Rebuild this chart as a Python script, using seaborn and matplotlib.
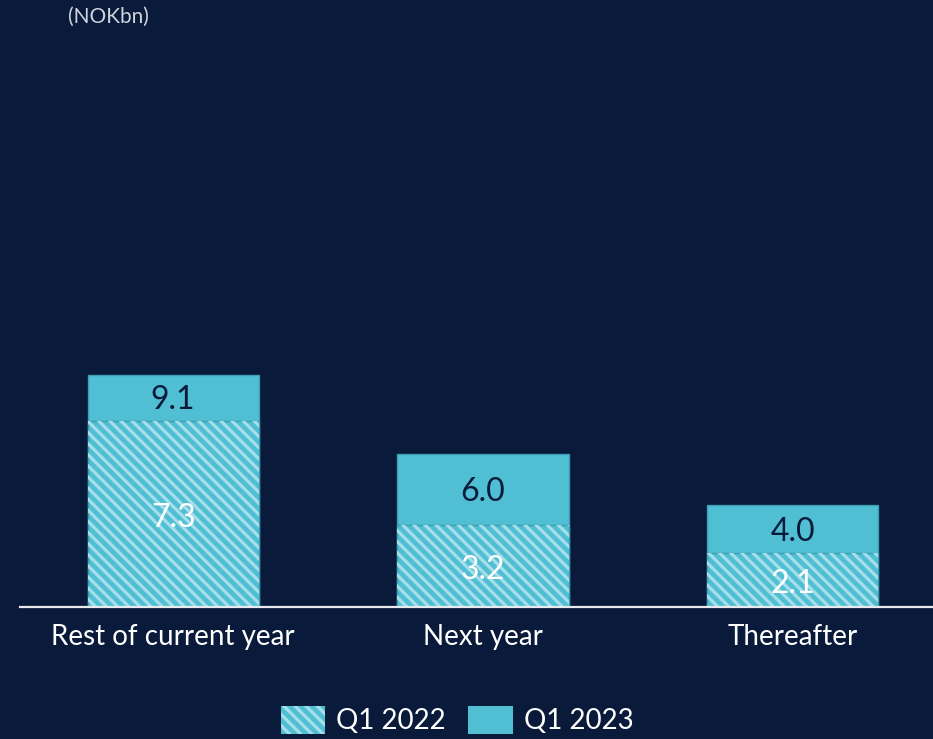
import pandas as pd
import matplotlib
matplotlib.use("Agg")
import matplotlib.pyplot as plt
import seaborn as sns
from matplotlib.patches import Patch

# data (NOKbn)
categories = ["Rest of current year", "Next year", "Thereafter"]
q1_2022 = [7.3, 3.2, 2.1]
q1_2023 = [9.1, 6.0, 4.0]
series_names = ["Q1 2022", "Q1 2023"]

df = pd.DataFrame({"category": categories, "q1_2022": q1_2022, "q1_2023": q1_2023})

# colours
bg = "#0a1a3a"
cyan = "#50bfd3"
edge = "#3e9db3"
stripe = "#a6deea"
hatch = "\\\\\\"  # 3 backslashes -> dense diagonal stripes

sns.set_theme(style="white")
plt.rcParams["font.family"] = ["Lato", "DejaVu Sans"]
plt.rcParams["hatch.linewidth"] = 2.3

fig = plt.figure(figsize=(9.33, 7.39), dpi=100, facecolor=bg)
ax = fig.add_axes([20 / 933, 132 / 739, 913 / 933, 577 / 739], facecolor=bg)

# Q1 2023 solid bar (full height), Q1 2022 hatched bar in front
sns.barplot(data=df, x="category", y="q1_2023", color=cyan, saturation=1,
            width=0.552, edgecolor=edge, linewidth=1, ax=ax)
sns.barplot(data=df, x="category", y="q1_2022", color=cyan, saturation=1,
            width=0.552, edgecolor=edge, linewidth=1, ax=ax)
# stripes on top of the Q1 2022 bars
n = len(categories)
for p in ax.patches[n:2 * n]:
    ax.bar(p.get_x() + p.get_width() / 2, p.get_height(), width=p.get_width(),
           facecolor="none", edgecolor=stripe, linewidth=0, hatch=hatch)

# value labels (nudged down a little so the digits sit centred)
for i in range(n):
    ax.annotate(f"{q1_2023[i]:.1f}", (i, (q1_2022[i] + q1_2023[i]) / 2),
                xytext=(0, -2), textcoords="offset points", ha="center",
                va="center", color=bg, fontsize=23)
    ax.annotate(f"{q1_2022[i]:.1f}", (i, q1_2022[i] / 2), xytext=(0, -3),
                textcoords="offset points", ha="center", va="center",
                color="white", fontsize=23)

ax.set_xlim(-0.494, 2.452)
ax.set_ylim(0, 22.6)
ax.set_xlabel("")
ax.set_ylabel("")
ax.set_yticks([])
for s in ["top", "right", "left"]:
    ax.spines[s].set_visible(False)
ax.spines["bottom"].set_color("#e8eaee")
ax.spines["bottom"].set_linewidth(1.6)
ax.tick_params(axis="x", length=0, pad=12, labelsize=20, labelcolor="white")

fig.text(68 / 933, 1 - 17 / 739, "(NOKbn)", color="#d0d4dc", fontsize=15,
         ha="left", va="center")

handles = [Patch(facecolor=cyan, edgecolor=stripe, linewidth=0, hatch=hatch),
           Patch(facecolor=cyan, edgecolor=cyan, linewidth=0)]
fig.legend(handles, series_names, loc="center", bbox_to_anchor=(457 / 933, 1 - 720 / 739),
           ncol=2, frameon=False, fontsize=20, labelcolor="white",
           handlelength=1.6, handleheight=1.2, handletextpad=0.4, columnspacing=0.8)

fig.savefig("out.png", dpi=100, facecolor=bg)
